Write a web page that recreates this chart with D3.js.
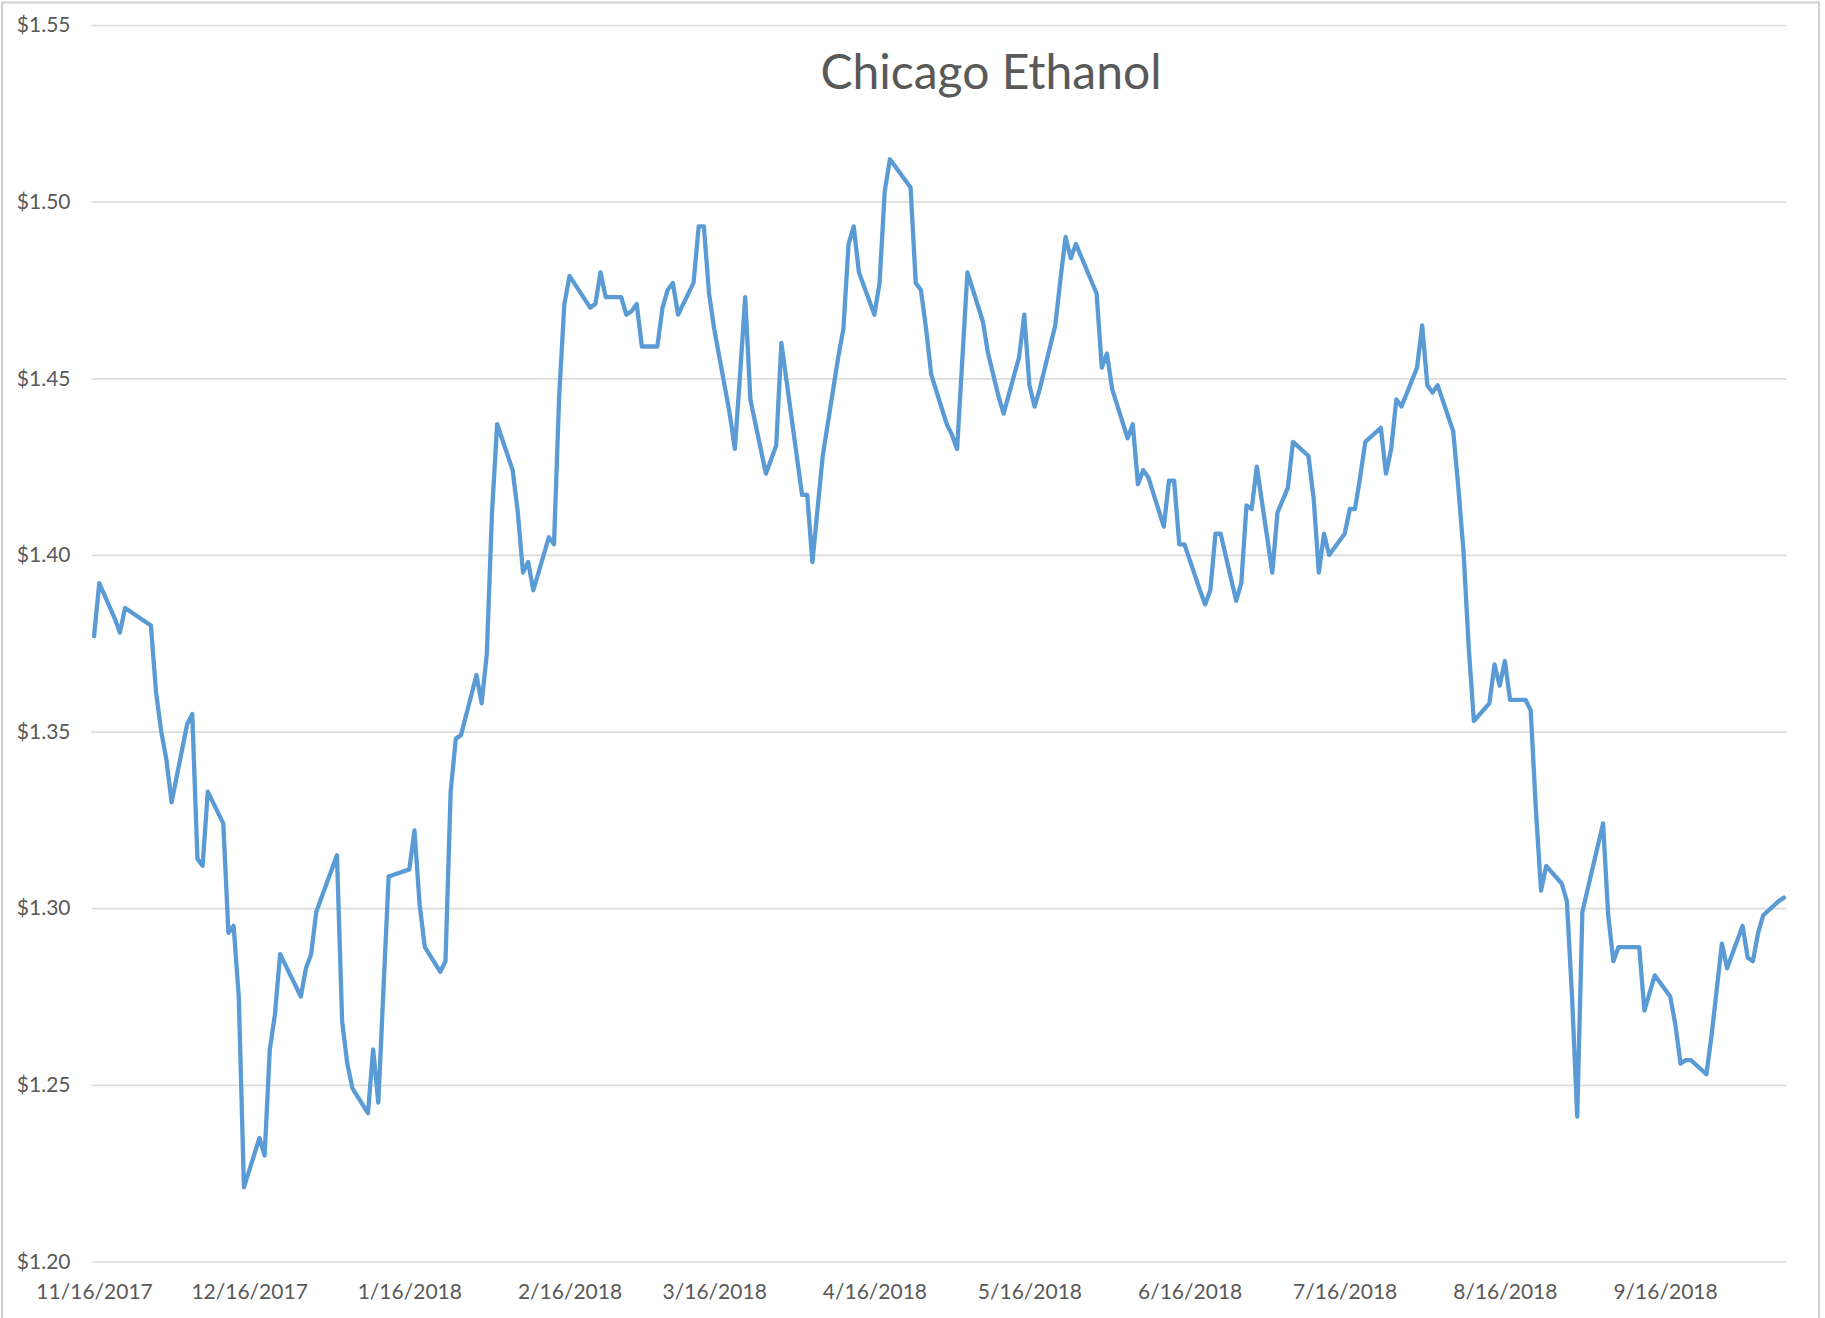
<!DOCTYPE html>
<html>
<head>
<meta charset="utf-8">
<script src="https://cdn.jsdelivr.net/npm/d3@7"></script>
<style>
  html, body { margin: 0; padding: 0; background: #fff; }
  #chart { width: 1825px; height: 1318px; }
</style>
</head>
<body>
<div id="chart"></div>
<script>
// Chicago ethanol, daily settle ($/gal)
const dates = [
  "2017-11-16","2017-11-17","2017-11-20","2017-11-21","2017-11-22","2017-11-24","2017-11-27","2017-11-28","2017-11-29","2017-11-30",
  "2017-12-01","2017-12-04","2017-12-05","2017-12-06","2017-12-07","2017-12-08","2017-12-11","2017-12-12","2017-12-13","2017-12-14",
  "2017-12-15","2017-12-18","2017-12-19","2017-12-20","2017-12-21","2017-12-22","2017-12-26","2017-12-27","2017-12-28","2017-12-29",
  "2018-01-02","2018-01-03","2018-01-04","2018-01-05","2018-01-08","2018-01-09","2018-01-10","2018-01-11","2018-01-12","2018-01-16",
  "2018-01-17","2018-01-18","2018-01-19","2018-01-22","2018-01-23","2018-01-24","2018-01-25","2018-01-26","2018-01-29","2018-01-30",
  "2018-01-31","2018-02-01","2018-02-02","2018-02-05","2018-02-06","2018-02-07","2018-02-08","2018-02-09","2018-02-12","2018-02-13",
  "2018-02-14","2018-02-15","2018-02-16","2018-02-20","2018-02-21","2018-02-22","2018-02-23","2018-02-26","2018-02-27","2018-02-28",
  "2018-03-01","2018-03-02","2018-03-05","2018-03-06","2018-03-07","2018-03-08","2018-03-09","2018-03-12","2018-03-13","2018-03-14",
  "2018-03-15","2018-03-16","2018-03-19","2018-03-20","2018-03-21","2018-03-22","2018-03-23","2018-03-26","2018-03-27","2018-03-28",
  "2018-03-29","2018-04-02","2018-04-03","2018-04-04","2018-04-05","2018-04-06","2018-04-09","2018-04-10","2018-04-11","2018-04-12",
  "2018-04-13","2018-04-16","2018-04-17","2018-04-18","2018-04-19","2018-04-20","2018-04-23","2018-04-24","2018-04-25","2018-04-26",
  "2018-04-27","2018-04-30","2018-05-01","2018-05-02","2018-05-03","2018-05-04","2018-05-07","2018-05-08","2018-05-09","2018-05-10",
  "2018-05-11","2018-05-14","2018-05-15","2018-05-16","2018-05-17","2018-05-18","2018-05-21","2018-05-22","2018-05-23","2018-05-24",
  "2018-05-25","2018-05-29","2018-05-30","2018-05-31","2018-06-01","2018-06-04","2018-06-05","2018-06-06","2018-06-07","2018-06-08",
  "2018-06-11","2018-06-12","2018-06-13","2018-06-14","2018-06-15","2018-06-18","2018-06-19","2018-06-20","2018-06-21","2018-06-22",
  "2018-06-25","2018-06-26","2018-06-27","2018-06-28","2018-06-29","2018-07-02","2018-07-03","2018-07-05","2018-07-06","2018-07-09",
  "2018-07-10","2018-07-11","2018-07-12","2018-07-13","2018-07-16","2018-07-17","2018-07-18","2018-07-19","2018-07-20","2018-07-23",
  "2018-07-24","2018-07-25","2018-07-26","2018-07-27","2018-07-30","2018-07-31","2018-08-01","2018-08-02","2018-08-03","2018-08-06",
  "2018-08-07","2018-08-08","2018-08-09","2018-08-10","2018-08-13","2018-08-14","2018-08-15","2018-08-16","2018-08-17","2018-08-20",
  "2018-08-21","2018-08-22","2018-08-23","2018-08-24","2018-08-27","2018-08-28","2018-08-29","2018-08-30","2018-08-31","2018-09-04",
  "2018-09-05","2018-09-06","2018-09-07","2018-09-10","2018-09-11","2018-09-12","2018-09-13","2018-09-14","2018-09-17","2018-09-18",
  "2018-09-19","2018-09-20","2018-09-21","2018-09-24","2018-09-25","2018-09-26","2018-09-27","2018-09-28","2018-10-01","2018-10-02",
  "2018-10-03","2018-10-04","2018-10-05","2018-10-08","2018-10-09"
];

const prices = [
  1.377, 1.392, 1.382, 1.378, 1.385, 1.383, 1.380, 1.361, 1.350, 1.342,
  1.330, 1.352, 1.355, 1.314, 1.312, 1.333, 1.324, 1.293, 1.295, 1.275,
  1.221, 1.235, 1.230, 1.260, 1.270, 1.287, 1.275, 1.283, 1.287, 1.299,
  1.315, 1.268, 1.256, 1.249, 1.242, 1.260, 1.245, 1.277, 1.309, 1.311,
  1.322, 1.301, 1.289, 1.282, 1.285, 1.333, 1.348, 1.349, 1.366, 1.358,
  1.372, 1.412, 1.437, 1.424, 1.412, 1.395, 1.398, 1.390, 1.405, 1.403,
  1.445, 1.471, 1.479, 1.470, 1.471, 1.480, 1.473, 1.473, 1.468, 1.469,
  1.471, 1.459, 1.459, 1.470, 1.475, 1.477, 1.468, 1.477, 1.493, 1.493,
  1.474, 1.464, 1.440, 1.430, 1.451, 1.473, 1.444, 1.423, 1.427, 1.431,
  1.460, 1.417, 1.417, 1.398, 1.413, 1.428, 1.456, 1.464, 1.488, 1.493,
  1.480, 1.468, 1.477, 1.503, 1.512, 1.510, 1.504, 1.477, 1.475, 1.464,
  1.451, 1.437, 1.434, 1.430, 1.455, 1.480, 1.466, 1.457, 1.451, 1.445,
  1.440, 1.456, 1.468, 1.448, 1.442, 1.447, 1.465, 1.478, 1.490, 1.484,
  1.488, 1.474, 1.453, 1.457, 1.447, 1.433, 1.437, 1.420, 1.424, 1.422,
  1.408, 1.421, 1.421, 1.403, 1.403, 1.390, 1.386, 1.390, 1.406, 1.406,
  1.387, 1.392, 1.414, 1.413, 1.425, 1.395, 1.412, 1.419, 1.432, 1.428,
  1.416, 1.395, 1.406, 1.400, 1.406, 1.413, 1.413, 1.422, 1.432, 1.436,
  1.423, 1.430, 1.444, 1.442, 1.453, 1.465, 1.448, 1.446, 1.448, 1.435,
  1.419, 1.401, 1.374, 1.353, 1.358, 1.369, 1.363, 1.370, 1.359, 1.359,
  1.356, 1.328, 1.305, 1.312, 1.307, 1.302, 1.275, 1.241, 1.299, 1.324,
  1.298, 1.285, 1.289, 1.289, 1.289, 1.271, 1.276, 1.281, 1.275, 1.267,
  1.256, 1.257, 1.257, 1.253, 1.264, 1.277, 1.290, 1.283, 1.295, 1.286,
  1.285, 1.293, 1.298, 1.302, 1.303
];

const yTicks = [1.20, 1.25, 1.30, 1.35, 1.40, 1.45, 1.50, 1.55];
const xTickDates = [
  "2017-11-16","2017-12-16","2018-01-16","2018-02-16","2018-03-16","2018-04-16",
  "2018-05-16","2018-06-16","2018-07-16","2018-08-16","2018-09-16"
];
const chartTitle = "Chicago Ethanol";

const W = 1825, H = 1318;
const plot = { left: 91.5, right: 1786.5, top: 25, bottom: 1261.5 };
const font = "Lato, 'Open Sans', sans-serif";
const textColor = "#595959";

const parse = d3.timeParse("%Y-%m-%d");
const data = dates.map((d, i) => ({ date: parse(d), price: prices[i] }));

const svg = d3.select("#chart")
    .append("svg")
    .attr("width", W)
    .attr("height", H)
    .style("background", "#fff");

// chart border (bottom runs off the picture)
svg.append("rect")
    .attr("x", 2)
    .attr("y", 2.5)
    .attr("width", 1817)
    .attr("height", H + 10)
    .attr("fill", "none")
    .attr("stroke", "#d0d0d0")
    .attr("stroke-width", 2);

// Excel date axis: each day sits in the middle of its own slot
const x = d3.scaleTime()
    .domain([new Date(2017, 10, 15, 12), new Date(2018, 9, 9, 12)])
    .range([plot.left, plot.right]);

const y = d3.scaleLinear()
    .domain([1.20, 1.55])
    .range([plot.bottom, plot.top]);

// gridlines + y labels
const yAxis = svg.append("g")
    .attr("transform", `translate(${plot.left},0)`)
    .call(d3.axisLeft(y)
        .tickValues(yTicks)
        .tickSize(-(plot.right - plot.left))
        .tickPadding(21)
        .tickFormat(d3.format("$.2f")));
yAxis.select(".domain").remove();
yAxis.selectAll(".tick line")
    .attr("stroke", "#dcdcdc")
    .attr("stroke-width", 1.7);
yAxis.selectAll(".tick text")
    .attr("fill", textColor)
    .style("font-family", font)
    .style("font-size", "21px");

// x labels
const fmt = d3.timeFormat("%-m/%-d/%Y");
const xAxis = svg.append("g")
    .attr("transform", `translate(0,${plot.bottom})`)
    .call(d3.axisBottom(x)
        .tickValues(xTickDates.map(parse))
        .tickSize(0)
        .tickPadding(23)
        .tickFormat(fmt));
xAxis.select(".domain").remove();
xAxis.selectAll(".tick text")
    .attr("fill", textColor)
    .style("font-family", font)
    .style("font-size", "21px");

// the price line
const line = d3.line()
    .x(d => x(d.date))
    .y(d => y(d.price));

svg.append("path")
    .datum(data)
    .attr("fill", "none")
    .attr("stroke", "#5b9bd5")
    .attr("stroke-width", 4.3)
    .attr("stroke-linejoin", "round")
    .attr("stroke-linecap", "round")
    .attr("d", line);

// title
svg.append("text")
    .attr("x", 991)
    .attr("y", 89)
    .attr("text-anchor", "middle")
    .attr("fill", textColor)
    .style("font-family", font)
    .style("font-size", "48px")
    .text(chartTitle);
</script>
</body>
</html>
